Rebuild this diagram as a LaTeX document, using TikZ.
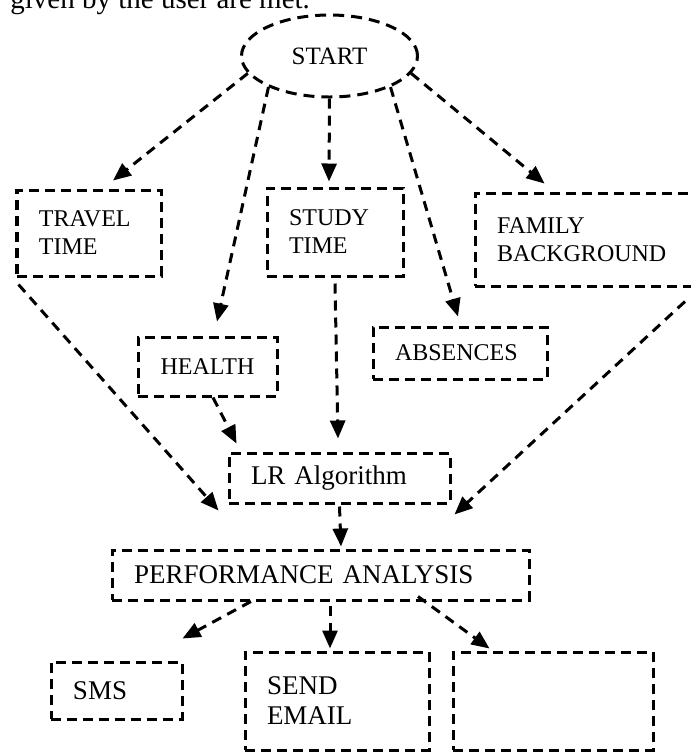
\documentclass[tikz,border=0pt]{standalone}
\usepackage{fontspec}
\setmainfont{Liberation Serif}
\usetikzlibrary{arrows.meta,shapes.geometric}

\begin{document}
\begin{tikzpicture}[x=0.5pt, y=-0.5pt,
    box/.style={draw, rectangle, line width=1.5pt, dash pattern=on 5pt off 3pt, inner xsep=11pt, inner ysep=0pt, align=left, font=\fontsize{12}{14}\selectfont},
    bigbox/.style={box, font=\fontsize{13.5}{15}\selectfont},
    flow/.style={-{Triangle[length=9pt,width=7.5pt]}, line width=1.5pt, dash pattern=on 5pt off 3.5pt}]
    \useasboundingbox (0,0) rectangle (691,752);

    % Text above
    \node[anchor=base west, inner sep=0pt, font=\fontsize{14.5}{16}\selectfont] (intro) at (10,8) {given by the user are met.};

    % Boxes
    \node[draw, ellipse, line width=1.5pt, dash pattern=on 5.5pt off 3.5pt, minimum width=88pt, minimum height=41pt, inner sep=0pt, font=\fontsize{12.5}{14}\selectfont] (start) at (329.5,56) {START};
    \node[box, minimum width=72pt, minimum height=43pt, text width=50pt] (travel) at (89,233) {TRAVEL\\TIME};
    \node[box, minimum width=68pt, minimum height=44pt, text width=46pt] (study) at (335,232) {STUDY\\TIME};
    \node[box, minimum width=110pt, minimum height=46.5pt, text width=88pt] (family) at (585,239.5) {FAMILY\\BACKGROUND};
    \node[box, align=center, minimum width=69.5pt, minimum height=29.5pt, text width=47.5pt] (health) at (207.5,366.5) {HEALTH};
    \node[box, minimum width=87pt, minimum height=26pt, text width=65pt] (absences) at (460,353) {ABSENCES};
    \node[bigbox, minimum width=110.5pt, minimum height=25pt, text width=88.5pt] (lr) at (339.5,478) {LR Algorithm};
    \node[bigbox, minimum width=208.5pt, minimum height=25pt, text width=186.5pt] (perf) at (320.5,575) {PERFORMANCE ANALYSIS};
    \node[bigbox, minimum width=64.5pt, minimum height=28.5pt, text width=43.5pt] (sms) at (116.5,690.5) {SMS};
    \node[bigbox, minimum width=92pt, minimum height=49pt, text width=70pt] (send) at (337,701) {SEND\\EMAIL};
    \node[bigbox, minimum width=100pt, minimum height=49pt, text width=78pt] (blank) at (553,701) {};

    % Arrows
    \draw[flow] (start.192) -- ([xshift=12pt,yshift=4pt]travel.north);
    \draw[flow] (start.207) -- ([xshift=4.75pt,yshift=7pt]health.north);
    \draw[flow] (start.south) -- ([xshift=-3pt,yshift=2.5pt]study.north);
    \draw[flow] (start.333) -- ([xshift=-1pt,yshift=4.5pt]absences.north);
    \draw[flow] (start.348) -- ([xshift=35.5pt,yshift=4pt]family.north west);
    \draw[flow] ([xshift=1.5pt,yshift=-3.5pt]travel.south west) -- ([xshift=54pt,yshift=19pt]perf.north west);
    \draw[flow] ([yshift=-3pt]study.south) -- ([xshift=-0.75pt,yshift=6.5pt]lr.north);
    \draw[flow] ([xshift=2.75pt]health.south) -- ([xshift=4.5pt,yshift=4pt]lr.north west);
    \draw[flow] ([xshift=50pt,yshift=-7pt]family.south) -- ([xshift=-38pt,yshift=17pt]perf.north east);
    \draw[flow] ([yshift=-1pt]lr.south) -- ([xshift=10.25pt,yshift=1pt]perf.north);
    \draw[flow] ([xshift=-34.75pt]perf.south) -- ([xshift=-0.5pt,yshift=11pt]sms.north east);
    \draw[flow] ([xshift=4.75pt,yshift=-2pt]perf.south) -- ([xshift=-3.5pt,yshift=1pt]send.north);
    \draw[flow] ([xshift=48.75pt,yshift=2.5pt]perf.south) -- ([xshift=19pt,yshift=1pt]blank.north west);
\end{tikzpicture}
\end{document}
